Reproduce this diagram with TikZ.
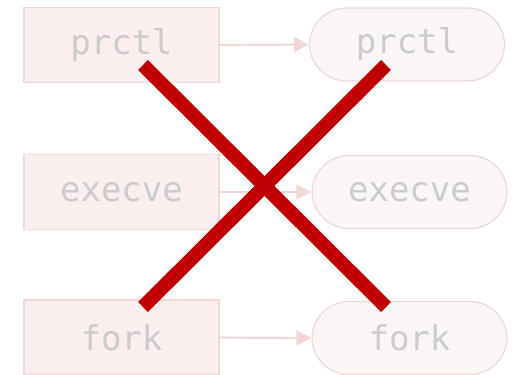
\documentclass[tikz,border=0pt]{standalone}
\usepackage{fontspec}
\setmonofont{DejaVu Sans Mono}
\usetikzlibrary{arrows.meta}
\definecolor{boxfill}{HTML}{FAEEEE}
\definecolor{boxline}{HTML}{F0D8D8}
\definecolor{pillfill}{HTML}{FBF6F6}
\definecolor{pillline}{HTML}{EDD8D8}
\definecolor{txtgrey}{HTML}{CCCCCC}
\definecolor{crossred}{HTML}{C00000}
\begin{document}
\begin{tikzpicture}[x=1pt,y=-1pt,
  callbox/.style={draw=boxline,line width=1.2pt,fill=boxfill,minimum width=195pt,minimum height=75pt,
    inner sep=0pt,text=txtgrey,font=\ttfamily\fontsize{34}{36}\selectfont},
  callpill/.style={draw=pillline,line width=1.2pt,fill=pillfill,rounded corners=37pt,minimum width=195pt,
    minimum height=73pt,inner sep=0pt,text=txtgrey,font=\ttfamily\fontsize{34}{36}\selectfont},
  flow/.style={draw=boxline,line width=2.2pt,-{Triangle[length=15pt,width=15pt]}},
  cross/.style={draw=crossred,line width=14pt}]
\useasboundingbox (0,0) rectangle (520,375);
\node[callbox] (l1) at (121.5,45) {prctl};
\node[callbox] (l2) at (121.5,192) {execve};
\node[callbox] (l3) at (121.5,337.5) {fork};
\node[callpill] (r1) at (407,44.5) {prctl};
\node[callpill] (r2) at (409.5,192) {execve};
\node[callpill] (r3) at (409.5,338) {fork};
\draw[flow] (l1.east) -- (r1.west);
\draw[flow] (l2.east) -- (r2.west);
\draw[flow] (l3.east) -- (r3.west);
\coordinate (xa) at (143,65);
\coordinate (xb) at (386,307);
\coordinate (xc) at (386,65);
\coordinate (xd) at (143,307);
\draw[cross] (xa) -- (xb);
\draw[cross] (xc) -- (xd);
\end{tikzpicture}
\end{document}
